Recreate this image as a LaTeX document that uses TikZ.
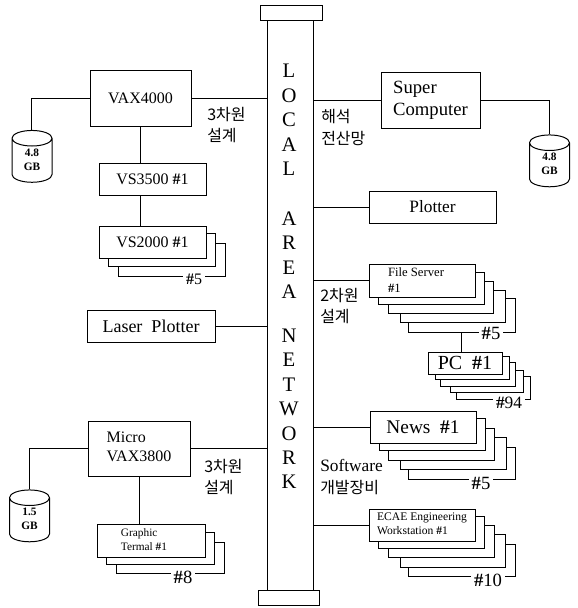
\documentclass[tikz,border=0pt]{standalone}
\usepackage{fontspec}
\setmainfont{Liberation Serif}
\newfontfamily\krfont{Noto Sans CJK KR}
\usetikzlibrary{shapes.geometric}
\newcommand{\fsz}[1]{\fontsize{#1}{#1}\selectfont}
\newcommand{\hs}{\textbf{\#}}
\newcommand{\disktext}[2]{\raisebox{-2.8pt}{\begin{tabular}{@{}c@{}}#1\\#2\end{tabular}}}
% box given by its corners in reference pixels
\newcommand{\pxbox}[6]{%
  \pgfmathsetlengthmacro{\bw}{(#4-#2)*0.75pt}%
  \pgfmathsetlengthmacro{\bh}{(#5-#3)*0.75pt}%
  \pgfmathsetmacro{\bx}{(#2+#4)/2}%
  \pgfmathsetmacro{\by}{(#3+#5)/2}%
  \node[unit,minimum width=\bw,minimum height=\bh] (#1) at (\bx,\by) {#6};}
\tikzset{
  unit/.style={draw,fill=white,inner sep=0pt,align=center,line width=0.75pt},
  wire/.style={line width=0.75pt},
  countlabel/.style={fill=white,inner xsep=2pt,inner ysep=1pt,font=\fsz{14}},
  kor/.style={inner sep=0pt,align=left,font=\krfont\fontsize{12}{16}\selectfont},
  lanword/.style={inner sep=0pt,align=center,font=\fontsize{15.5}{18.3}\selectfont},
  disk/.style={draw,fill=white,cylinder,shape border rotate=90,aspect=0.95,inner sep=0pt,
    minimum width=30pt,minimum height=36.5pt,line width=0.75pt,
    font=\bfseries\fontsize{8.5}{10.5}\selectfont},
}
\begin{document}
\begin{tikzpicture}[x=0.75pt,y=-0.75pt]
\useasboundingbox (0,0) rectangle (578,608);
% backbone
\pxbox{bus}{267}{20}{313}{590}{}
\pxbox{captop}{260}{5}{322}{20}{}
\pxbox{capbot}{258}{590}{319}{605}{}
\node[lanword] (wlocal) at (289,120) {L\\O\\C\\A\\L};
\node[lanword] (warea) at (289,255) {A\\R\\E\\A};
\node[lanword] (wnetwork) at (289,409) {N\\E\\T\\W\\O\\R\\K};
% VAX4000 group
\pxbox{vax}{90}{70}{191}{126}{\fsz{12}VAX4000}
\pxbox{vsa}{99}{163}{206}{195}{\fsz{12}VS3500 \hs1}
\pxbox{vsc}{118}{243}{225}{276}{}
\pxbox{vsb}{108}{233}{215}{266}{}
\pxbox{vsd}{99}{226}{206}{258}{\fsz{12}VS2000 \hs1}
\node[countlabel,font=\fsz{12}] (vsn) at (194,279) {\hs5};
\node[disk] (diska) at (32,160.5) {\disktext{4.8}{GB}};
% Super computer, plotters
\pxbox{sup}{381}{72}{480}{128}{\fontsize{14}{16.5}\selectfont\begin{tabular}{@{}l@{}}Super\\Computer\end{tabular}}
\node[disk] (diskb) at (549.5,165) {\disktext{4.8}{GB}};
\pxbox{plot}{369}{191}{496}{223}{\fsz{13}Plotter}
\pxbox{laser}{87}{310}{215}{342}{\fsz{13.5}Laser\ \ Plotter}
% File server stack
\pxbox{fse}{408}{298}{515}{332}{}
\pxbox{fsd}{400}{290}{505}{322}{}
\pxbox{fsc}{388}{281}{493}{313}{}
\pxbox{fsb}{378}{272}{484}{304}{}
\pxbox{fsa}{369}{264}{475}{297}{}
\node[inner sep=0pt,align=left,font=\fontsize{9.5}{12}\selectfont] (fst) at (416,280) {File Server\\\hs1};
\node[countlabel] (fsn) at (491,333) {\hs5};
% PC stack
\pxbox{pce}{456}{376}{530}{399}{}
\pxbox{pcd}{450}{370}{523}{392}{}
\pxbox{pcc}{440}{362}{515}{386}{}
\pxbox{pcb}{435}{356}{509}{379}{}
\pxbox{pca}{428}{352}{502}{374}{\fsz{15}PC\ \ \hs1}
\node[countlabel,font=\fsz{13}] (pcn) at (509,403) {\hs94};
% News stack
\pxbox{nwe}{408}{447}{515}{479}{}
\pxbox{nwd}{400}{437}{506}{469}{}
\pxbox{nwc}{388}{428}{494}{460}{}
\pxbox{nwb}{379}{418}{485}{450}{}
\pxbox{nwa}{370}{411}{476}{443}{\fsz{14.5}News\ \ \hs1}
\node[countlabel] (nwn) at (481,483) {\hs5};
% ECAE stack
\pxbox{ece}{408}{544}{515}{576}{}
\pxbox{ecd}{400}{534}{505}{567}{}
\pxbox{ecc}{388}{525}{494}{557}{}
\pxbox{ecb}{378}{516}{484}{548}{}
\pxbox{eca}{369}{509}{475}{541}{\fontsize{8.7}{10.5}\selectfont\begin{tabular}{@{}l@{}}ECAE Engineering\\Workstation \hs1\end{tabular}}
\node[countlabel] (ecn) at (488,580) {\hs10};
% Micro VAX group
\pxbox{mic}{88}{421}{190}{476}{\fontsize{12}{14.3}\selectfont\begin{tabular}{@{}l@{}}Micro\\VAX3800\end{tabular}}
\node[disk] (diskc) at (29.5,520) {\disktext{1.5}{GB}};
\pxbox{gre}{116}{542}{224}{573}{}
\pxbox{grb}{106}{532}{214}{564}{}
\pxbox{gra}{97}{524}{205}{557}{}
\node[inner sep=0pt,align=left,font=\fontsize{8.5}{10.5}\selectfont] (grt) at (144,540) {Graphic\\Termal \hs1};
\node[countlabel] (grn) at (183,577) {\hs8};
% Korean labels
\node[kor,anchor=west] (ka) at (207,125) {3차원\\설계};
\node[kor,anchor=west] (kb) at (321,127.5) {해석\\전산망};
\node[kor,anchor=west] (kc) at (320,306) {2차원\\설계};
\node[kor,anchor=west] (kd) at (204,477) {3차원\\설계};
\node[inner sep=0pt,anchor=west,align=left,font=\fontsize{13}{16}\selectfont] (ke) at (320,477) {Software\\{\krfont\fontsize{12}{12}\selectfont 개발장비}};
% connectors
\draw[wire] (vax.east) -- (vax.east -| bus.west);
\draw[wire] (vax.west) -| (diska.north);
\draw[wire] (vax.south) -- (vax.south |- vsa.north);
\draw[wire] (vsa.south -| vax.south) -- (vax.south |- vsd.north);
\draw[wire] (sup.west) -- (sup.west -| bus.east);
\draw[wire] (sup.east) -| (diskb.north);
\draw[wire] (plot.west) -- (plot.west -| bus.east);
\draw[wire] (laser.east) -- (laser.east -| bus.west);
\draw[wire] (fsa.west) -- (fsa.west -| bus.east);
\draw[wire] (fse.south) -- (fse.south |- pca.north);
\draw[wire] (nwa.west) -- (nwa.west -| bus.east);
\draw[wire] (eca.west) -- (eca.west -| bus.east);
\draw[wire] (mic.east) -- (mic.east -| bus.west);
\draw[wire] (mic.west) -| (diskc.north);
\draw[wire] (mic.south) -- (mic.south |- gra.north);
\end{tikzpicture}
\end{document}
